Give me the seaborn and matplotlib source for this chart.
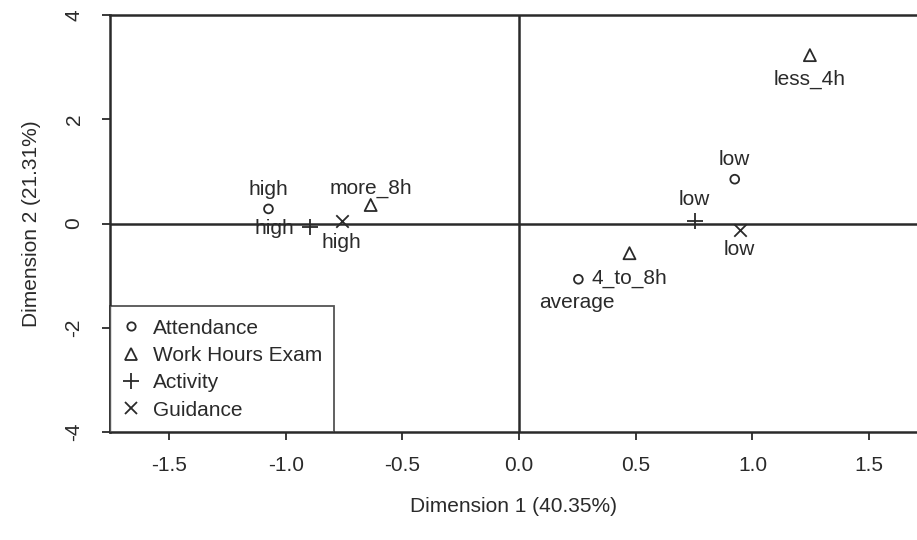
import matplotlib
matplotlib.use("Agg")
import matplotlib.pyplot as plt
import seaborn as sns
import pandas as pd
from matplotlib.lines import Line2D

# ---- data ----
variables = ["Attendance", "Work Hours Exam", "Activity", "Guidance"]
att_labels = ["high", "low", "average"]
att_x = [-1.074, 0.924, 0.254]
att_y = [0.28, 0.85, -1.07]
wh_labels = ["more_8h", "less_4h", "4_to_8h"]
wh_x = [-0.636, 1.246, 0.473]
wh_y = [0.355, 3.23, -0.57]
act_labels = ["high", "low"]
act_x = [-0.898, 0.752]
act_y = [-0.07, 0.05]
gui_labels = ["high", "low"]
gui_x = [-0.761, 0.945]
gui_y = [0.05, -0.12]
x_ticks = [-1.5, -1.0, -0.5, 0.0, 0.5, 1.0, 1.5]
y_ticks = [-4, -2, 0, 2, 4]

rows = []
for var, labs, xs, ys in zip(variables,
                             [att_labels, wh_labels, act_labels, gui_labels],
                             [att_x, wh_x, act_x, gui_x],
                             [att_y, wh_y, act_y, gui_y]):
    for l, x, y in zip(labs, xs, ys):
        rows.append(dict(variable=var, label=l, x=x, y=y))
df = pd.DataFrame(rows)

# ---- style ----
sns.set_theme(style="white")
plt.rcParams["font.family"] = ["Liberation Sans", "DejaVu Sans"]
C = "#2a2a2a"
FS = 15

fig = plt.figure(figsize=(9.17, 5.40), dpi=100)
ax = fig.add_axes([110 / 917, 1 - 432 / 540, 1 - 110 / 917, (432 - 15) / 540])

markers = {"Attendance": "o", "Work Hours Exam": "^", "Activity": "+", "Guidance": "x"}
sizes = {"Attendance": 40, "Work Hours Exam": 75, "Activity": 130, "Guidance": 80}
for var in variables:
    sub = df[df["variable"] == var]
    m = markers[var]
    if m in ("o", "^"):
        sns.scatterplot(data=sub, x="x", y="y", marker=m, s=sizes[var],
                        facecolors="none", edgecolors=C, linewidths=1.3,
                        ax=ax, legend=False, zorder=3)
    else:
        sns.scatterplot(data=sub, x="x", y="y", marker=m, s=sizes[var],
                        color=C, linewidths=1.3, ax=ax, legend=False, zorder=3)

# label offsets in pixels (dx, dy, ha)
offsets = {
    ("Attendance", "high"): (0, 19, "center"),
    ("Attendance", "low"): (0, 20, "center"),
    ("Attendance", "average"): (-2, -23, "center"),
    ("Work Hours Exam", "more_8h"): (0, 17, "center"),
    ("Work Hours Exam", "less_4h"): (0, -24, "center"),
    ("Work Hours Exam", "4_to_8h"): (0, -25, "center"),
    ("Activity", "high"): (-15, -1, "right"),
    ("Activity", "low"): (0, 21, "center"),
    ("Guidance", "high"): (0, -22, "center"),
    ("Guidance", "low"): (0, -20, "center"),
}
for _, r in df.iterrows():
    dx, dy, ha = offsets[(r["variable"], r["label"])]
    ax.annotate(r["label"], (r["x"], r["y"]), xytext=(dx, dy),
                textcoords="offset pixels", ha=ha, va="center",
                fontsize=FS, color=C, zorder=4)

ax.axhline(0, color=C, lw=1.8, zorder=1)
ax.axvline(0, color=C, lw=1.8, zorder=1)

ax.set_xlim(-1.753, 1.705)
ax.set_ylim(-4, 4)
ax.set_xticks(x_ticks)
ax.set_xticklabels([f"{v:.1f}" for v in x_ticks])
ax.set_yticks(y_ticks)
ax.set_yticklabels([str(v) for v in y_ticks], rotation=90, va="center")

for s in ["left", "bottom", "top"]:
    ax.spines[s].set_color(C)
    ax.spines[s].set_linewidth(1.8)
ax.spines["right"].set_visible(False)

ax.tick_params(axis="both", which="both", direction="out", length=6, width=1.3,
               color=C, labelcolor=C, labelsize=FS, pad=11)
ax.tick_params(axis="x", bottom=True, top=False)
ax.tick_params(axis="y", left=True, right=False, pad=13)

ax.set_xlabel("Dimension 1 (40.35%)", fontsize=FS, color=C, labelpad=16)
ax.set_ylabel("Dimension 2 (21.31%)", fontsize=FS, color=C, labelpad=17)

handles = [
    Line2D([], [], linestyle="none", marker="o", markersize=6, markerfacecolor="none",
           markeredgecolor=C, markeredgewidth=1.3),
    Line2D([], [], linestyle="none", marker="^", markersize=8, markerfacecolor="none",
           markeredgecolor=C, markeredgewidth=1.3),
    Line2D([], [], linestyle="none", marker="+", markersize=11, color=C, markeredgewidth=1.3),
    Line2D([], [], linestyle="none", marker="x", markersize=8, color=C, markeredgewidth=1.3),
]
leg = ax.legend(handles, variables, loc="lower left", bbox_to_anchor=(0, 0),
                borderaxespad=0, frameon=True, fancybox=False, fontsize=FS,
                handlelength=0.8, handletextpad=0.65, labelspacing=0.4,
                borderpad=0.6, labelcolor=C)
leg.get_frame().set_edgecolor(C)
leg.get_frame().set_linewidth(1.3)

fig.savefig("out.png", dpi=100)
